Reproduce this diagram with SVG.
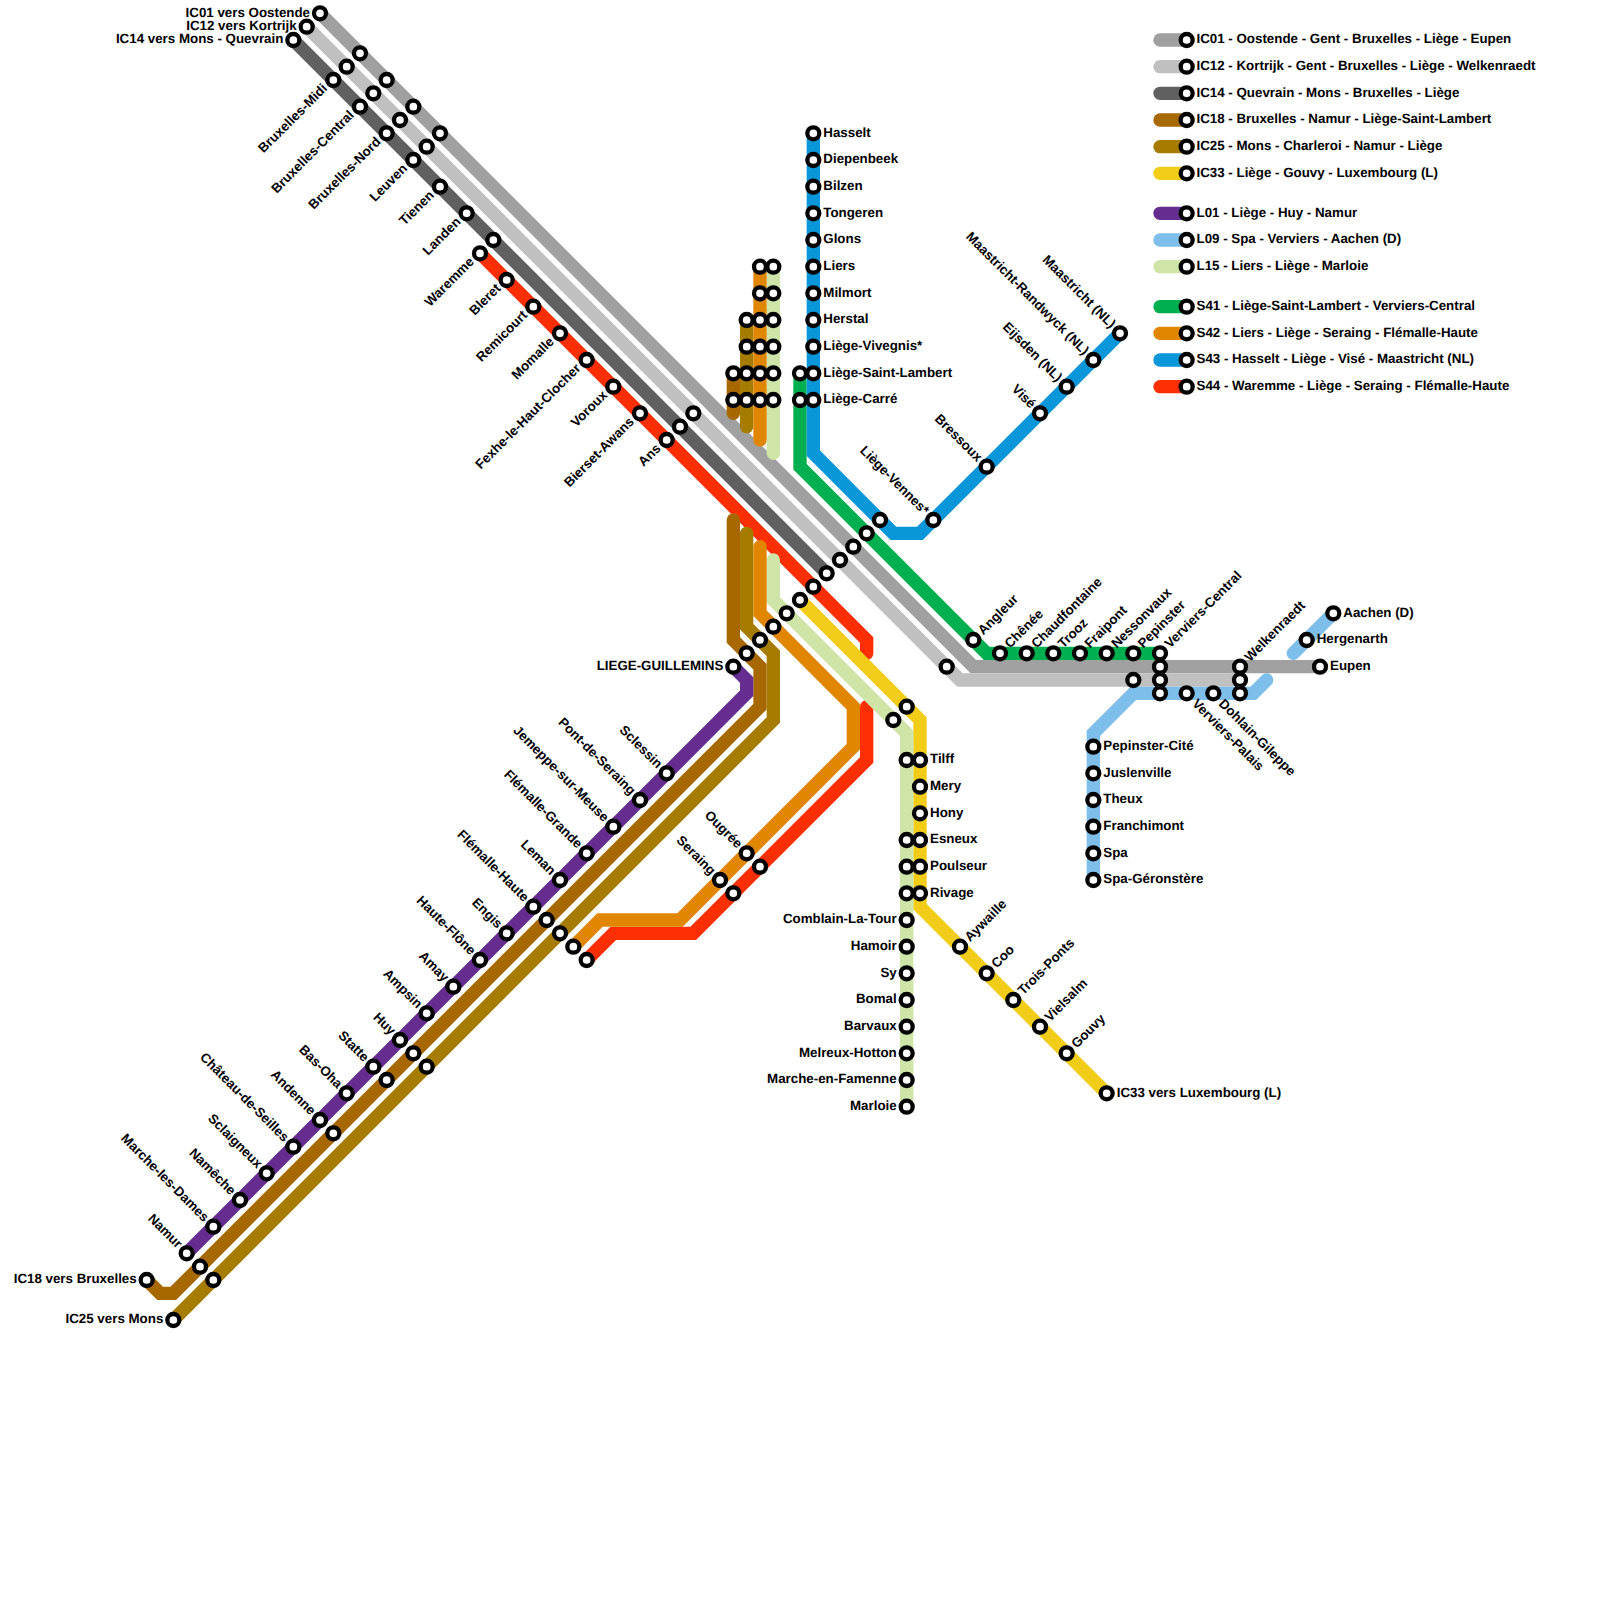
<svg xmlns="http://www.w3.org/2000/svg" width="1600" height="1600" viewBox="0 0 1600 1600">
<style>
text{font-family:"Liberation Sans",Arial,sans-serif;font-weight:700;font-size:13.33px;fill:#000;text-rendering:geometricPrecision}
.l{text-anchor:end}
.s{fill:#fff;stroke:#000;stroke-width:4.3}
path{fill:none;stroke-width:13.33;stroke-linecap:round;stroke-linejoin:miter;stroke-miterlimit:4}
.ic01{stroke:#a0a0a0}.ic12{stroke:#c0c0c0}.ic14{stroke:#606060}.ic18{stroke:#a86800}.ic25{stroke:#a67c00}.ic33{stroke:#f1cd17}
.l01{stroke:#662d91}.l09{stroke:#7dbeeb}.l15{stroke:#cfe4a7}.s41{stroke:#00b050}.s42{stroke:#e08600}.s43{stroke:#0a97d9}.s44{stroke:#ff2f05}
</style>
<g id="connectors">
<path class="s44" d="M480 253.33L866.67 640V653.33"/>
<path class="s44" d="M866.67 706.67V760L693.33 933.33H613.33L586.67 960"/>
<path class="ic01" d="M320 13.33L973.33 666.67H1320"/>
<path class="ic12" d="M306.67 26.67L960 680H1240"/>
<path class="ic14" d="M293.33 40L826.67 573.33"/>
<path class="ic18" d="M733.33 373.33V413.33"/>
<path class="ic18" d="M733.33 520V640L760 666.67V706.67L173.33 1293.33H160L146.67 1280"/>
<path class="ic25" d="M746.67 320V426.67"/>
<path class="ic25" d="M746.67 533.33V626.67L773.33 653.33V720L173.33 1320"/>
<path class="ic33" d="M800 600L920 720V906.67L1106.67 1093.33"/>
<path class="l01" d="M733.33 666.67L746.67 680V693.33L186.67 1253.33"/>
<path class="l09" d="M1093.33 880V733.33L1133.33 693.33H1253.33L1266.67 680"/>
<path class="l09" d="M1293.33 653.33L1333.33 613.33"/>
<path class="l15" d="M773.33 266.67V453.33"/>
<path class="l15" d="M773.33 560V600L906.67 733.33V1106.67"/>
<path class="s41" d="M800 373.33V466.67L986.67 653.33H1160"/>
<path class="s42" d="M760 266.67V440"/>
<path class="s42" d="M760 546.67V613.33L853.33 706.67V746.67L680 920H600L573.33 946.67"/>
<path class="s43" d="M813.33 133.33V453.33L893.33 533.33H920L1120 333.33"/>
</g>
<g id="legend">
<g id="leg-ic01"><path class="ic01" d="M1160 40H1186.67"/><circle class="s" cx="1186.67" cy="40" r="6"/><text x="1196.5" y="43.4">IC01 - Oostende - Gent - Bruxelles - Liège - Eupen</text></g>
<g id="leg-ic12"><path class="ic12" d="M1160 66.67H1186.67"/><circle class="s" cx="1186.67" cy="66.67" r="6"/><text x="1196.5" y="70">IC12 - Kortrijk - Gent - Bruxelles - Liège - Welkenraedt</text></g>
<g id="leg-ic14"><path class="ic14" d="M1160 93.33H1186.67"/><circle class="s" cx="1186.67" cy="93.33" r="6"/><text x="1196.5" y="96.7">IC14 - Quevrain - Mons - Bruxelles - Liège</text></g>
<g id="leg-ic18"><path class="ic18" d="M1160 120H1186.67"/><circle class="s" cx="1186.67" cy="120" r="6"/><text x="1196.5" y="123.4">IC18 - Bruxelles - Namur - Liège-Saint-Lambert</text></g>
<g id="leg-ic25"><path class="ic25" d="M1160 146.67H1186.67"/><circle class="s" cx="1186.67" cy="146.67" r="6"/><text x="1196.5" y="150">IC25 - Mons - Charleroi - Namur - Liège</text></g>
<g id="leg-ic33"><path class="ic33" d="M1160 173.33H1186.67"/><circle class="s" cx="1186.67" cy="173.33" r="6"/><text x="1196.5" y="176.7">IC33 - Liège - Gouvy - Luxembourg (L)</text></g>
<g id="leg-l01"><path class="l01" d="M1160 213.33H1186.67"/><circle class="s" cx="1186.67" cy="213.33" r="6"/><text x="1196.5" y="216.7">L01 - Liège - Huy - Namur</text></g>
<g id="leg-l09"><path class="l09" d="M1160 240H1186.67"/><circle class="s" cx="1186.67" cy="240" r="6"/><text x="1196.5" y="243.4">L09 - Spa - Verviers - Aachen (D)</text></g>
<g id="leg-l15"><path class="l15" d="M1160 266.67H1186.67"/><circle class="s" cx="1186.67" cy="266.67" r="6"/><text x="1196.5" y="270">L15 - Liers - Liège - Marloie</text></g>
<g id="leg-s41"><path class="s41" d="M1160 306.67H1186.67"/><circle class="s" cx="1186.67" cy="306.67" r="6"/><text x="1196.5" y="310">S41 - Liège-Saint-Lambert - Verviers-Central</text></g>
<g id="leg-s42"><path class="s42" d="M1160 333.33H1186.67"/><circle class="s" cx="1186.67" cy="333.33" r="6"/><text x="1196.5" y="336.7">S42 - Liers - Liège - Seraing - Flémalle-Haute</text></g>
<g id="leg-s43"><path class="s43" d="M1160 360H1186.67"/><circle class="s" cx="1186.67" cy="360" r="6"/><text x="1196.5" y="363.4">S43 - Hasselt - Liège - Visé - Maastricht (NL)</text></g>
<g id="leg-s44"><path class="s44" d="M1160 386.67H1186.67"/><circle class="s" cx="1186.67" cy="386.67" r="6"/><text x="1196.5" y="390">S44 - Waremme - Liège - Seraing - Flémalle-Haute</text></g>
</g>
<g id="nodes">
<g id="n-ostende"><circle class="s" cx="320" cy="13.33" r="6"/><text class="l" x="310" y="16.7">IC01 vers Oostende</text></g>
<g id="n-kortrijk"><circle class="s" cx="306.67" cy="26.67" r="6"/><text class="l" x="296.67" y="30">IC12 vers Kortrijk</text></g>
<g id="n-quevrain"><circle class="s" cx="293.33" cy="40" r="6"/><text class="l" x="283.33" y="43.4">IC14 vers Mons - Quevrain</text></g>
<g id="n-midi-01"><circle class="s" cx="360" cy="53.33" r="6"/></g>
<g id="n-midi-12"><circle class="s" cx="346.67" cy="66.67" r="6"/></g>
<g id="n-midi"><circle class="s" cx="333.33" cy="80" r="6"/><text class="l" transform="rotate(-45 328 89.2)" x="328" y="89.2">Bruxelles-Midi</text></g>
<g id="n-central-01"><circle class="s" cx="386.67" cy="80" r="6"/></g>
<g id="n-central-12"><circle class="s" cx="373.33" cy="93.33" r="6"/></g>
<g id="n-central"><circle class="s" cx="360" cy="106.67" r="6"/><text class="l" transform="rotate(-45 354.7 115.9)" x="354.7" y="115.9">Bruxelles-Central</text></g>
<g id="n-nord-01"><circle class="s" cx="413.33" cy="106.67" r="6"/></g>
<g id="n-nord-12"><circle class="s" cx="400" cy="120" r="6"/></g>
<g id="n-nord"><circle class="s" cx="386.67" cy="133.33" r="6"/><text class="l" transform="rotate(-45 381.4 142.5)" x="381.4" y="142.5">Bruxelles-Nord</text></g>
<g id="n-leuven-01"><circle class="s" cx="440" cy="133.33" r="6"/></g>
<g id="n-leuven-12"><circle class="s" cx="426.67" cy="146.67" r="6"/></g>
<g id="n-leuven"><circle class="s" cx="413.33" cy="160" r="6"/><text class="l" transform="rotate(-45 408 169.2)" x="408" y="169.2">Leuven</text></g>
<g id="n-tienen"><circle class="s" cx="440" cy="186.67" r="6"/><text class="l" transform="rotate(-45 434.7 195.9)" x="434.7" y="195.9">Tienen</text></g>
<g id="n-landen"><circle class="s" cx="466.67" cy="213.33" r="6"/><text class="l" transform="rotate(-45 461.4 222.5)" x="461.4" y="222.5">Landen</text></g>
<g id="n-waremme-14"><circle class="s" cx="493.33" cy="240" r="6"/></g>
<g id="n-waremme"><circle class="s" cx="480" cy="253.33" r="6"/><text class="l" transform="rotate(-45 474.7 262.5)" x="474.7" y="262.5">Waremme</text></g>
<g id="n-bleret"><circle class="s" cx="506.67" cy="280" r="6"/><text class="l" transform="rotate(-45 501.4 289.2)" x="501.4" y="289.2">Bleret</text></g>
<g id="n-remicourt"><circle class="s" cx="533.33" cy="306.67" r="6"/><text class="l" transform="rotate(-45 528 315.9)" x="528" y="315.9">Remicourt</text></g>
<g id="n-momalle"><circle class="s" cx="560" cy="333.33" r="6"/><text class="l" transform="rotate(-45 554.7 342.5)" x="554.7" y="342.5">Momalle</text></g>
<g id="n-fexhe"><circle class="s" cx="586.67" cy="360" r="6"/><text class="l" transform="rotate(-45 581.4 369.2)" x="581.4" y="369.2">Fexhe-le-Haut-Clocher</text></g>
<g id="n-voroux"><circle class="s" cx="613.33" cy="386.67" r="6"/><text class="l" transform="rotate(-45 608 395.9)" x="608" y="395.9">Voroux</text></g>
<g id="n-bierset"><circle class="s" cx="640" cy="413.33" r="6"/><text class="l" transform="rotate(-45 634.7 422.5)" x="634.7" y="422.5">Bierset-Awans</text></g>
<g id="n-ans"><circle class="s" cx="666.67" cy="440" r="6"/><text class="l" transform="rotate(-45 661.4 449.2)" x="661.4" y="449.2">Ans</text></g>
<g id="n-ans-14"><circle class="s" cx="680" cy="426.67" r="6"/></g>
<g id="n-ans-12"><circle class="s" cx="693.33" cy="413.33" r="6"/></g>
<g id="n-c55-28"><circle class="s" cx="733.33" cy="373.33" r="6"/></g>
<g id="n-c55-30"><circle class="s" cx="733.33" cy="400" r="6"/></g>
<g id="n-c56-24"><circle class="s" cx="746.67" cy="320" r="6"/></g>
<g id="n-c56-26"><circle class="s" cx="746.67" cy="346.67" r="6"/></g>
<g id="n-c56-28"><circle class="s" cx="746.67" cy="373.33" r="6"/></g>
<g id="n-c56-30"><circle class="s" cx="746.67" cy="400" r="6"/></g>
<g id="n-c57-20"><circle class="s" cx="760" cy="266.67" r="6"/></g>
<g id="n-c57-22"><circle class="s" cx="760" cy="293.33" r="6"/></g>
<g id="n-c57-24"><circle class="s" cx="760" cy="320" r="6"/></g>
<g id="n-c57-26"><circle class="s" cx="760" cy="346.67" r="6"/></g>
<g id="n-c57-28"><circle class="s" cx="760" cy="373.33" r="6"/></g>
<g id="n-c57-30"><circle class="s" cx="760" cy="400" r="6"/></g>
<g id="n-c58-20"><circle class="s" cx="773.33" cy="266.67" r="6"/></g>
<g id="n-c58-22"><circle class="s" cx="773.33" cy="293.33" r="6"/></g>
<g id="n-c58-24"><circle class="s" cx="773.33" cy="320" r="6"/></g>
<g id="n-c58-26"><circle class="s" cx="773.33" cy="346.67" r="6"/></g>
<g id="n-c58-28"><circle class="s" cx="773.33" cy="373.33" r="6"/></g>
<g id="n-c58-30"><circle class="s" cx="773.33" cy="400" r="6"/></g>
<g id="n-c60-28"><circle class="s" cx="800" cy="373.33" r="6"/></g>
<g id="n-c60-30"><circle class="s" cx="800" cy="400" r="6"/></g>
<g id="n-hasselt"><circle class="s" cx="813.33" cy="133.33" r="6"/><text x="823.3" y="136.7">Hasselt</text></g>
<g id="n-diepenbeek"><circle class="s" cx="813.33" cy="160" r="6"/><text x="823.3" y="163.4">Diepenbeek</text></g>
<g id="n-bilzen"><circle class="s" cx="813.33" cy="186.67" r="6"/><text x="823.3" y="190">Bilzen</text></g>
<g id="n-tongeren"><circle class="s" cx="813.33" cy="213.33" r="6"/><text x="823.3" y="216.7">Tongeren</text></g>
<g id="n-glons"><circle class="s" cx="813.33" cy="240" r="6"/><text x="823.3" y="243.4">Glons</text></g>
<g id="n-liers"><circle class="s" cx="813.33" cy="266.67" r="6"/><text x="823.3" y="270">Liers</text></g>
<g id="n-milmort"><circle class="s" cx="813.33" cy="293.33" r="6"/><text x="823.3" y="296.7">Milmort</text></g>
<g id="n-herstal"><circle class="s" cx="813.33" cy="320" r="6"/><text x="823.3" y="323.4">Herstal</text></g>
<g id="n-vivegnis"><circle class="s" cx="813.33" cy="346.67" r="6"/><text x="823.3" y="350">Liège-Vivegnis*</text></g>
<g id="n-lambert"><circle class="s" cx="813.33" cy="373.33" r="6"/><text x="823.3" y="376.7">Liège-Saint-Lambert</text></g>
<g id="n-carre"><circle class="s" cx="813.33" cy="400" r="6"/><text x="823.3" y="403.4">Liège-Carré</text></g>
<g id="n-guillemins"><circle class="s" cx="733.33" cy="666.67" r="6"/><text class="l" x="723.3" y="670">LIEGE-GUILLEMINS</text></g>
<g id="n-g56"><circle class="s" cx="746.67" cy="653.33" r="6"/></g>
<g id="n-g57"><circle class="s" cx="760" cy="640" r="6"/></g>
<g id="n-g58"><circle class="s" cx="773.33" cy="626.67" r="6"/></g>
<g id="n-g59"><circle class="s" cx="786.67" cy="613.33" r="6"/></g>
<g id="n-g60"><circle class="s" cx="800" cy="600" r="6"/></g>
<g id="n-g61"><circle class="s" cx="813.33" cy="586.67" r="6"/></g>
<g id="n-g62"><circle class="s" cx="826.67" cy="573.33" r="6"/></g>
<g id="n-g63"><circle class="s" cx="840" cy="560" r="6"/></g>
<g id="n-g64"><circle class="s" cx="853.33" cy="546.67" r="6"/></g>
<g id="n-g65"><circle class="s" cx="866.67" cy="533.33" r="6"/></g>
<g id="n-g66"><circle class="s" cx="880" cy="520" r="6"/></g>
<g id="n-vennes"><circle class="s" cx="933.33" cy="520" r="6"/><text class="l" transform="rotate(45 923.6 515.7)" x="923.6" y="515.7">Liège-Vennes*</text></g>
<g id="n-bressoux"><circle class="s" cx="986.67" cy="466.67" r="6"/><text class="l" transform="rotate(45 977 462.4)" x="977" y="462.4">Bressoux</text></g>
<g id="n-vise"><circle class="s" cx="1040" cy="413.33" r="6"/><text class="l" transform="rotate(45 1030.3 409)" x="1030.3" y="409">Visé</text></g>
<g id="n-eijsden"><circle class="s" cx="1066.67" cy="386.67" r="6"/><text class="l" transform="rotate(45 1057 382.4)" x="1057" y="382.4">Eijsden (NL)</text></g>
<g id="n-randwyck"><circle class="s" cx="1093.33" cy="360" r="6"/><text class="l" transform="rotate(45 1083.6 355.7)" x="1083.6" y="355.7">Maastricht-Randwyck (NL)</text></g>
<g id="n-maastricht"><circle class="s" cx="1120" cy="333.33" r="6"/><text class="l" transform="rotate(45 1110.3 329)" x="1110.3" y="329">Maastricht (NL)</text></g>
<g id="n-ic12-71"><circle class="s" cx="946.67" cy="666.67" r="6"/></g>
<g id="n-angleur"><circle class="s" cx="973.33" cy="640" r="6"/><text transform="rotate(-45 983.3 635.5)" x="983.3" y="635.5">Angleur</text></g>
<g id="n-chenee"><circle class="s" cx="1000" cy="653.33" r="6"/><text transform="rotate(-45 1010 648.8)" x="1010" y="648.8">Chênée</text></g>
<g id="n-chaudfontaine"><circle class="s" cx="1026.67" cy="653.33" r="6"/><text transform="rotate(-45 1036.7 648.8)" x="1036.7" y="648.8">Chaudfontaine</text></g>
<g id="n-trooz"><circle class="s" cx="1053.33" cy="653.33" r="6"/><text transform="rotate(-45 1063.3 648.8)" x="1063.3" y="648.8">Trooz</text></g>
<g id="n-fraipont"><circle class="s" cx="1080" cy="653.33" r="6"/><text transform="rotate(-45 1090 648.8)" x="1090" y="648.8">Fraipont</text></g>
<g id="n-nessonvaux"><circle class="s" cx="1106.67" cy="653.33" r="6"/><text transform="rotate(-45 1116.7 648.8)" x="1116.7" y="648.8">Nessonvaux</text></g>
<g id="n-pepinster"><circle class="s" cx="1133.33" cy="653.33" r="6"/><text transform="rotate(-45 1143.3 648.8)" x="1143.3" y="648.8">Pepinster</text></g>
<g id="n-pepinster-12"><circle class="s" cx="1133.33" cy="680" r="6"/></g>
<g id="n-verviers"><circle class="s" cx="1160" cy="653.33" r="6"/><text transform="rotate(-45 1170 648.8)" x="1170" y="648.8">Verviers-Central</text></g>
<g id="n-verviers-01"><circle class="s" cx="1160" cy="666.67" r="6"/></g>
<g id="n-verviers-12"><circle class="s" cx="1160" cy="680" r="6"/></g>
<g id="n-verviers-09"><circle class="s" cx="1160" cy="693.33" r="6"/></g>
<g id="n-palais"><circle class="s" cx="1186.67" cy="693.33" r="6"/><text transform="rotate(45 1191.5 704.5)" x="1191.5" y="704.5">Verviers-Palais</text></g>
<g id="n-dohlain"><circle class="s" cx="1213.33" cy="693.33" r="6"/><text transform="rotate(45 1218.1 704.5)" x="1218.1" y="704.5">Dohlain-Gileppe</text></g>
<g id="n-welkenraedt"><circle class="s" cx="1240" cy="666.67" r="6"/><text transform="rotate(-45 1250 662.2)" x="1250" y="662.2">Welkenraedt</text></g>
<g id="n-welk-12"><circle class="s" cx="1240" cy="680" r="6"/></g>
<g id="n-welk-09"><circle class="s" cx="1240" cy="693.33" r="6"/></g>
<g id="n-eupen"><circle class="s" cx="1320" cy="666.67" r="6"/><text x="1330" y="670">Eupen</text></g>
<g id="n-hergenarth"><circle class="s" cx="1306.67" cy="640" r="6"/><text x="1316.7" y="643.4">Hergenarth</text></g>
<g id="n-aachen"><circle class="s" cx="1333.33" cy="613.33" r="6"/><text x="1343.3" y="616.7">Aachen (D)</text></g>
<g id="n-pepcite"><circle class="s" cx="1093.33" cy="746.67" r="6"/><text x="1103.3" y="750">Pepinster-Cité</text></g>
<g id="n-juslenville"><circle class="s" cx="1093.33" cy="773.33" r="6"/><text x="1103.3" y="776.7">Juslenville</text></g>
<g id="n-theux"><circle class="s" cx="1093.33" cy="800" r="6"/><text x="1103.3" y="803.4">Theux</text></g>
<g id="n-franchimont"><circle class="s" cx="1093.33" cy="826.67" r="6"/><text x="1103.3" y="830">Franchimont</text></g>
<g id="n-spa"><circle class="s" cx="1093.33" cy="853.33" r="6"/><text x="1103.3" y="856.7">Spa</text></g>
<g id="n-geronstere"><circle class="s" cx="1093.33" cy="880" r="6"/><text x="1103.3" y="883.4">Spa-Géronstère</text></g>
<g id="n-ic33-68"><circle class="s" cx="906.67" cy="706.67" r="6"/></g>
<g id="n-l15-67"><circle class="s" cx="893.33" cy="720" r="6"/></g>
<g id="n-l15-57"><circle class="s" cx="906.67" cy="760" r="6"/></g>
<g id="n-tilff"><circle class="s" cx="920" cy="760" r="6"/><text x="930" y="763.4">Tilff</text></g>
<g id="n-mery"><circle class="s" cx="920" cy="786.67" r="6"/><text x="930" y="790">Mery</text></g>
<g id="n-hony"><circle class="s" cx="920" cy="813.33" r="6"/><text x="930" y="816.7">Hony</text></g>
<g id="n-l15-63"><circle class="s" cx="906.67" cy="840" r="6"/></g>
<g id="n-esneux"><circle class="s" cx="920" cy="840" r="6"/><text x="930" y="843.4">Esneux</text></g>
<g id="n-l15-65"><circle class="s" cx="906.67" cy="866.67" r="6"/></g>
<g id="n-poulseur"><circle class="s" cx="920" cy="866.67" r="6"/><text x="930" y="870">Poulseur</text></g>
<g id="n-l15-67b"><circle class="s" cx="906.67" cy="893.33" r="6"/></g>
<g id="n-rivage"><circle class="s" cx="920" cy="893.33" r="6"/><text x="930" y="896.7">Rivage</text></g>
<g id="n-comblain"><circle class="s" cx="906.67" cy="920" r="6"/><text class="l" x="896.7" y="923.4">Comblain-La-Tour</text></g>
<g id="n-hamoir"><circle class="s" cx="906.67" cy="946.67" r="6"/><text class="l" x="896.7" y="950">Hamoir</text></g>
<g id="n-sy"><circle class="s" cx="906.67" cy="973.33" r="6"/><text class="l" x="896.7" y="976.7">Sy</text></g>
<g id="n-bomal"><circle class="s" cx="906.67" cy="1000" r="6"/><text class="l" x="896.7" y="1003.4">Bomal</text></g>
<g id="n-barvaux"><circle class="s" cx="906.67" cy="1026.67" r="6"/><text class="l" x="896.7" y="1030">Barvaux</text></g>
<g id="n-melreux"><circle class="s" cx="906.67" cy="1053.33" r="6"/><text class="l" x="896.7" y="1056.7">Melreux-Hotton</text></g>
<g id="n-marche"><circle class="s" cx="906.67" cy="1080" r="6"/><text class="l" x="896.7" y="1083.4">Marche-en-Famenne</text></g>
<g id="n-marloie"><circle class="s" cx="906.67" cy="1106.67" r="6"/><text class="l" x="896.7" y="1110">Marloie</text></g>
<g id="n-aywaille"><circle class="s" cx="960" cy="946.67" r="6"/><text transform="rotate(-45 970 942.2)" x="970" y="942.2">Aywaille</text></g>
<g id="n-coo"><circle class="s" cx="986.67" cy="973.33" r="6"/><text transform="rotate(-45 996.7 968.8)" x="996.7" y="968.8">Coo</text></g>
<g id="n-troisponts"><circle class="s" cx="1013.33" cy="1000" r="6"/><text transform="rotate(-45 1023.3 995.5)" x="1023.3" y="995.5">Trois-Ponts</text></g>
<g id="n-vielsalm"><circle class="s" cx="1040" cy="1026.67" r="6"/><text transform="rotate(-45 1050 1022.2)" x="1050" y="1022.2">Vielsalm</text></g>
<g id="n-gouvy"><circle class="s" cx="1066.67" cy="1053.33" r="6"/><text transform="rotate(-45 1076.7 1048.8)" x="1076.7" y="1048.8">Gouvy</text></g>
<g id="n-luxembourg"><circle class="s" cx="1106.67" cy="1093.33" r="6"/><text x="1116.7" y="1096.7">IC33 vers Luxembourg (L)</text></g>
<g id="n-ougree"><circle class="s" cx="746.67" cy="853.33" r="6"/><text class="l" transform="rotate(45 737 849)" x="737" y="849">Ougrée</text></g>
<g id="n-ougree-44"><circle class="s" cx="760" cy="866.67" r="6"/></g>
<g id="n-seraing"><circle class="s" cx="720" cy="880" r="6"/><text class="l" transform="rotate(45 710.3 875.7)" x="710.3" y="875.7">Seraing</text></g>
<g id="n-seraing-44"><circle class="s" cx="733.33" cy="893.33" r="6"/></g>
<g id="n-sclessin"><circle class="s" cx="666.67" cy="773.33" r="6"/><text class="l" transform="rotate(45 657 769)" x="657" y="769">Sclessin</text></g>
<g id="n-pontdeseraing"><circle class="s" cx="640" cy="800" r="6"/><text class="l" transform="rotate(45 630.3 795.7)" x="630.3" y="795.7">Pont-de-Seraing</text></g>
<g id="n-jemeppe"><circle class="s" cx="613.33" cy="826.67" r="6"/><text class="l" transform="rotate(45 603.6 822.4)" x="603.6" y="822.4">Jemeppe-sur-Meuse</text></g>
<g id="n-flemalleg"><circle class="s" cx="586.67" cy="853.33" r="6"/><text class="l" transform="rotate(45 577 849)" x="577" y="849">Flémalle-Grande</text></g>
<g id="n-leman"><circle class="s" cx="560" cy="880" r="6"/><text class="l" transform="rotate(45 550.3 875.7)" x="550.3" y="875.7">Leman</text></g>
<g id="n-flemalleh"><circle class="s" cx="533.33" cy="906.67" r="6"/><text class="l" transform="rotate(45 523.6 902.4)" x="523.6" y="902.4">Flémalle-Haute</text></g>
<g id="n-flemalleh-18"><circle class="s" cx="546.67" cy="920" r="6"/></g>
<g id="n-flemalleh-25"><circle class="s" cx="560" cy="933.33" r="6"/></g>
<g id="n-flemalleh-42"><circle class="s" cx="573.33" cy="946.67" r="6"/></g>
<g id="n-flemalleh-44"><circle class="s" cx="586.67" cy="960" r="6"/></g>
<g id="n-engis"><circle class="s" cx="506.67" cy="933.33" r="6"/><text class="l" transform="rotate(45 497 929)" x="497" y="929">Engis</text></g>
<g id="n-hauteflone"><circle class="s" cx="480" cy="960" r="6"/><text class="l" transform="rotate(45 470.3 955.7)" x="470.3" y="955.7">Haute-Flône</text></g>
<g id="n-amay"><circle class="s" cx="453.33" cy="986.67" r="6"/><text class="l" transform="rotate(45 443.6 982.4)" x="443.6" y="982.4">Amay</text></g>
<g id="n-ampsin"><circle class="s" cx="426.67" cy="1013.33" r="6"/><text class="l" transform="rotate(45 417 1009)" x="417" y="1009">Ampsin</text></g>
<g id="n-huy"><circle class="s" cx="400" cy="1040" r="6"/><text class="l" transform="rotate(45 390.3 1035.7)" x="390.3" y="1035.7">Huy</text></g>
<g id="n-huy-18"><circle class="s" cx="413.33" cy="1053.33" r="6"/></g>
<g id="n-huy-25"><circle class="s" cx="426.67" cy="1066.67" r="6"/></g>
<g id="n-statte"><circle class="s" cx="373.33" cy="1066.67" r="6"/><text class="l" transform="rotate(45 363.6 1062.4)" x="363.6" y="1062.4">Statte</text></g>
<g id="n-statte-18"><circle class="s" cx="386.67" cy="1080" r="6"/></g>
<g id="n-basoha"><circle class="s" cx="346.67" cy="1093.33" r="6"/><text class="l" transform="rotate(45 337 1089)" x="337" y="1089">Bas-Oha</text></g>
<g id="n-andenne"><circle class="s" cx="320" cy="1120" r="6"/><text class="l" transform="rotate(45 310.3 1115.7)" x="310.3" y="1115.7">Andenne</text></g>
<g id="n-andenne-18"><circle class="s" cx="333.33" cy="1133.33" r="6"/></g>
<g id="n-seilles"><circle class="s" cx="293.33" cy="1146.67" r="6"/><text class="l" transform="rotate(45 283.6 1142.4)" x="283.6" y="1142.4">Château-de-Seilles</text></g>
<g id="n-sclaigneux"><circle class="s" cx="266.67" cy="1173.33" r="6"/><text class="l" transform="rotate(45 257 1169)" x="257" y="1169">Sclaigneux</text></g>
<g id="n-nameche"><circle class="s" cx="240" cy="1200" r="6"/><text class="l" transform="rotate(45 230.3 1195.7)" x="230.3" y="1195.7">Namêche</text></g>
<g id="n-marches"><circle class="s" cx="213.33" cy="1226.67" r="6"/><text class="l" transform="rotate(45 203.6 1222.4)" x="203.6" y="1222.4">Marche-les-Dames</text></g>
<g id="n-namur"><circle class="s" cx="186.67" cy="1253.33" r="6"/><text class="l" transform="rotate(45 177 1249)" x="177" y="1249">Namur</text></g>
<g id="n-namur-18"><circle class="s" cx="200" cy="1266.67" r="6"/></g>
<g id="n-namur-25"><circle class="s" cx="213.33" cy="1280" r="6"/></g>
<g id="n-bruxelles18"><circle class="s" cx="146.67" cy="1280" r="6"/><text class="l" x="136.7" y="1283.4">IC18 vers Bruxelles</text></g>
<g id="n-mons25"><circle class="s" cx="173.33" cy="1320" r="6"/><text class="l" x="163.3" y="1323.4">IC25 vers Mons</text></g>
</g>
</svg>
